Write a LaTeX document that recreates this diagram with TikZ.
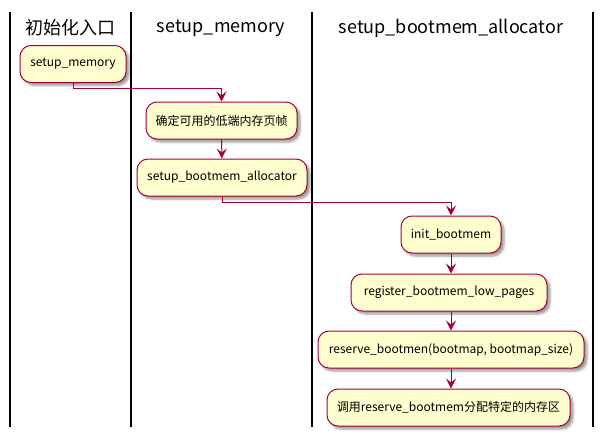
\documentclass[tikz,border=0pt]{standalone}
\usepackage{fontspec}
\setmainfont{Noto Sans CJK SC}
\usetikzlibrary{arrows.meta,shadows.blur}
\definecolor{actfill}{HTML}{FEFECE}
\definecolor{actline}{HTML}{A80036}
\tikzset{
  act/.style={draw=actline, fill=actfill, line width=1pt, rounded corners=11pt,
    minimum height=37pt, inner sep=0pt, font=\fontsize{12}{14}\selectfont,
    blur shadow={shadow xshift=3pt, shadow yshift=-3pt, shadow blur steps=6, shadow opacity=40}},
  flow/.style={draw=actline, line width=1pt, -{Stealth[length=10pt,width=10pt,inset=4pt]}},
  lane/.style={draw=black, line width=1.8pt},
  lanehead/.style={font=\fontsize{18}{21}\selectfont, anchor=center},
}
\begin{document}
\begin{tikzpicture}[x=1pt,y=-1pt]
\useasboundingbox (0,0) rectangle (603,437);
% swimlane separators
\coordinate (l0t) at (10,12); \coordinate (l0b) at (10,427);
\coordinate (l1t) at (131,12); \coordinate (l1b) at (131,427);
\coordinate (l2t) at (312,12); \coordinate (l2b) at (312,427);
\coordinate (l3t) at (593,12); \coordinate (l3b) at (593,427);
\draw[lane] (l0t) -- (l0b);
\draw[lane] (l1t) -- (l1b);
\draw[lane] (l2t) -- (l2b);
\draw[lane] (l3t) -- (l3b);
% headers
\node[lanehead] (h1) at (70,28) {初始化入口};
\node[lanehead] (h2) at (221,28) {setup\_memory};
\node[lanehead] (h3) at (451,28) {setup\_bootmem\_allocator};
% activities
\node[act, minimum width=106pt] (a1) at (73,64) {setup\_memory};
\node[act, minimum width=151pt] (a2) at (221.5,120.5) {确定可用的低端内存页帧};
\node[act, minimum width=170pt] (a3) at (222,177.5) {setup\_bootmem\_allocator};
\node[act, minimum width=100pt] (a4) at (451,234.5) {init\_bootmem};
\node[act, minimum width=196pt] (a5) at (449,292.5) {register\_bootmem\_low\_pages};
\node[act, minimum width=266pt] (a6) at (451,349.5) {reserve\_bootmen(bootmap, bootmap\_size)};
\node[act, minimum width=243pt] (a7) at (448.5,407.5) {调用reserve\_bootmem分配特定的内存区};
% connectors
\coordinate (b1) at (73,88);
\coordinate (b2) at (221.5,88);
\draw[flow] (a1.south) -- (b1) -- (b2) -- (a2.north);
\draw[flow] (a2) -- (a3);
\coordinate (b3) at (222,202);
\coordinate (b4) at (451,202);
\draw[flow] (a3.south) -- (b3) -- (b4) -- (a4.north);
\draw[flow] (a4) -- (a5.north -| a4);
\draw[flow] (a5.south -| a4) -- (a6.north -| a4);
\draw[flow] (a6.south -| a4) -- (a7.north -| a4);
\end{tikzpicture}
\end{document}
